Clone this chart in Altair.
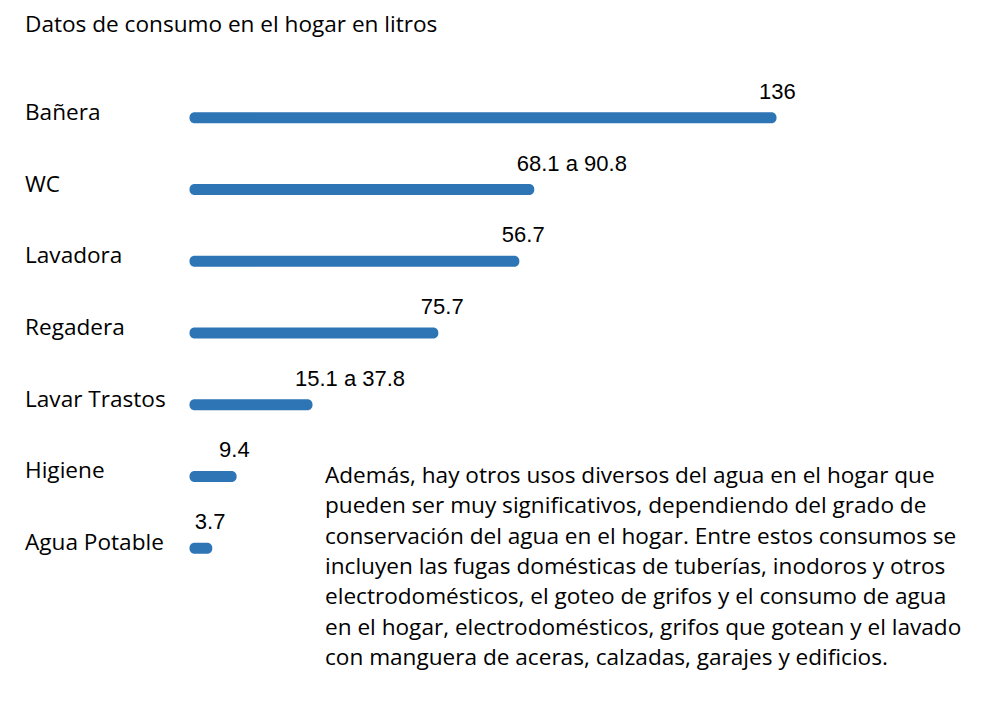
import altair as alt
import pandas as pd

categories = ["Bañera", "WC", "Lavadora", "Regadera", "Lavar Trastos", "Higiene", "Agua Potable"]
values = [136, 79.2, 75.7, 56.7, 27.2, 9.4, 3.7]
value_labels = ["136", "68.1 a 90.8", "56.7", "75.7", "15.1 a 37.8", "9.4", "3.7"]

title_text = "Datos de consumo en el hogar en litros"
note_lines = [
    "Además, hay otros usos diversos del agua en el hogar que",
    "pueden ser muy significativos, dependiendo del grado de",
    "conservación del agua en el hogar. Entre estos consumos se",
    "incluyen las fugas domésticas de tuberías, inodoros y otros",
    "electrodomésticos, el goteo de grifos y el consumo de agua",
    "en el hogar, electrodomésticos, grifos que gotean y el lavado",
    "con manguera de aceras, calzadas, garajes y edificios.",
]

df = pd.DataFrame({"cat": categories, "value": values, "label": value_labels})

BLUE = "#2E75B6"
MAIN_FONT = "Open Sans"
NUM_FONT = "Liberation Sans"
MAIN_SIZE = 22.6
NUM_SIZE = 22

y_enc = alt.Y("cat:N", sort=categories, axis=None,
              scale=alt.Scale(paddingInner=0, paddingOuter=0))
x_enc = alt.X("value:Q", axis=None,
              scale=alt.Scale(domain=[0, 136], nice=False, zero=True))

base = alt.Chart(df)

bars = base.mark_bar(size=11, cornerRadius=5, color=BLUE,
                     xOffset=3.5, x2Offset=-3.5).encode(
    x=x_enc, x2=alt.datum(0), y=y_enc
)

vlabels = base.mark_text(align="left", baseline="alphabetic", dx=-14, dy=-19,
                         font=NUM_FONT, fontSize=NUM_SIZE, color="#000000").encode(
    x=x_enc, y=y_enc, text="label:N"
)

clabels = base.mark_text(align="left", baseline="alphabetic", dy=2,
                         font=MAIN_FONT, fontSize=MAIN_SIZE, color="#000000").encode(
    x=alt.value(-168), y=y_enc, text="cat:N"
)

title = alt.Chart(pd.DataFrame({"t": [title_text]})).mark_text(
    align="left", baseline="alphabetic", font=MAIN_FONT, fontSize=MAIN_SIZE, color="#000000"
).encode(x=alt.value(-168), y=alt.value(-50), text="t:N")

note = alt.Chart(pd.DataFrame({"t": ["\n".join(note_lines)]})).mark_text(
    align="left", baseline="alphabetic", font=MAIN_FONT, fontSize=MAIN_SIZE,
    lineBreak="\n", lineHeight=30.3, color="#000000"
).encode(x=alt.value(132), y=alt.value(401), text="t:N")

chart = alt.layer(bars, vlabels, clabels, title, note).properties(
    width=580, height=502,
    padding={"left": 193, "top": 82, "right": 213, "bottom": 121},
    autosize=alt.AutoSizeParams(type="none"),
    background="white",
).configure_view(stroke=None)

chart.save("out.html", embed_options={"renderer": "svg", "actions": False})
